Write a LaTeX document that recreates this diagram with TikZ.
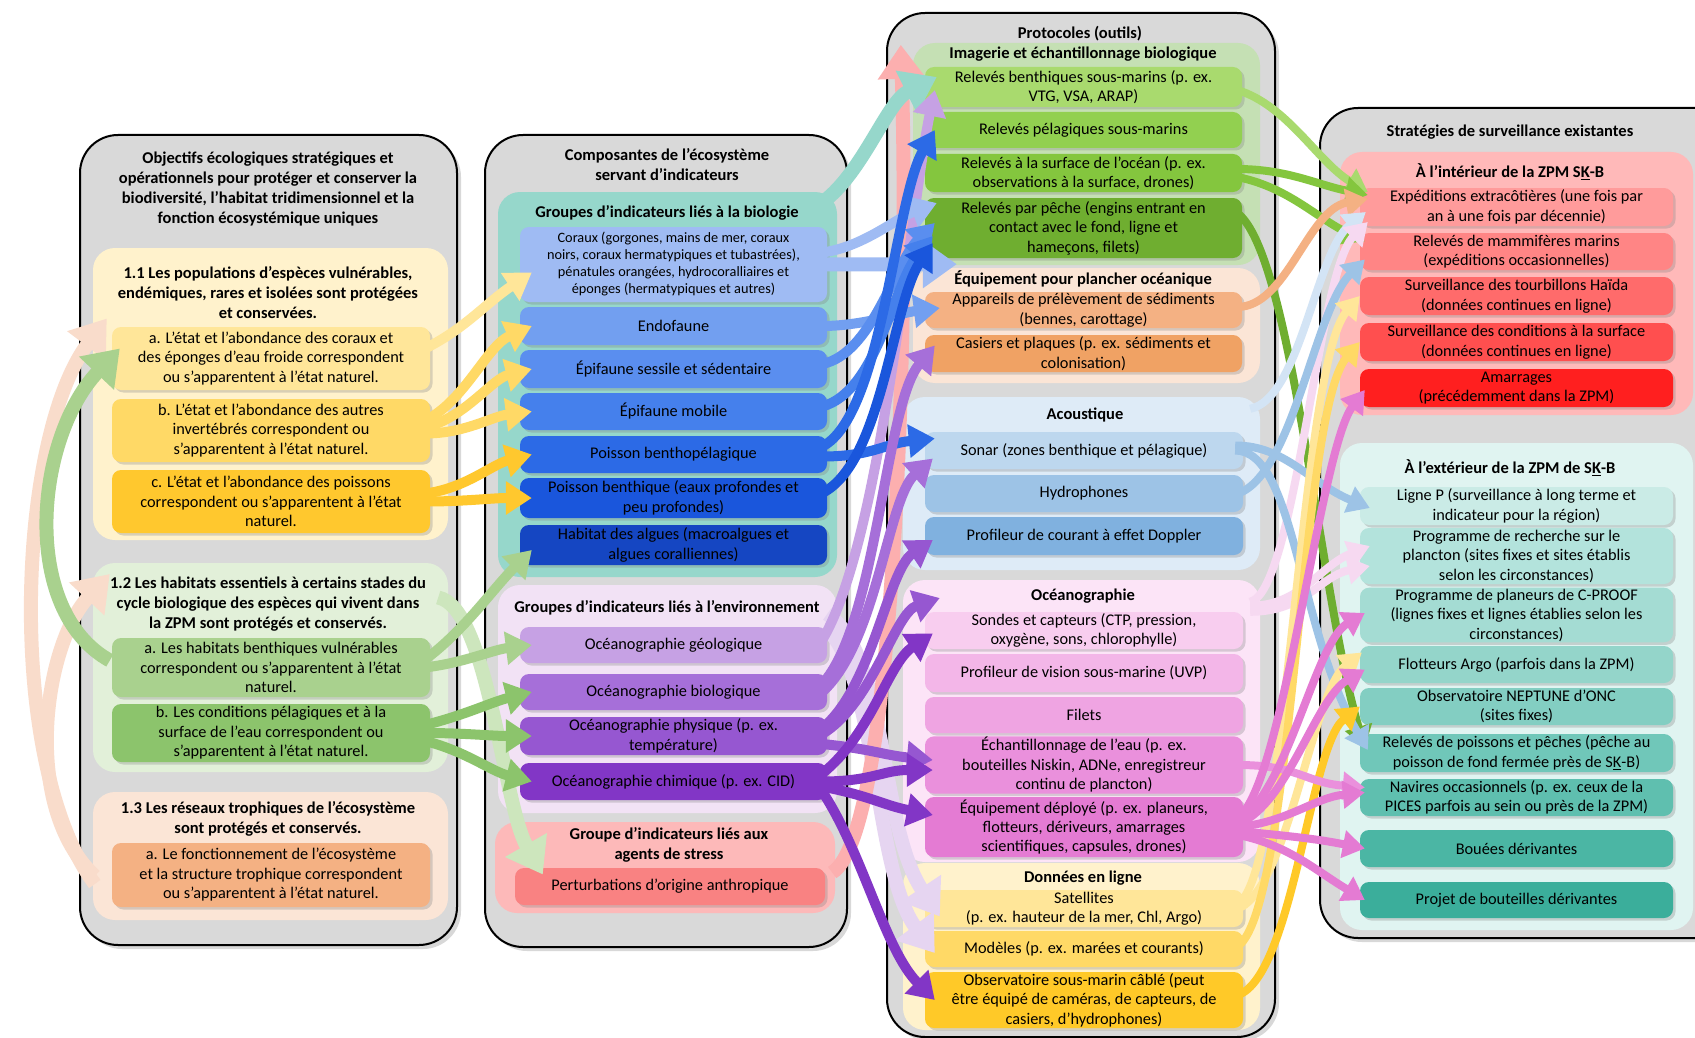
\documentclass[tikz,border=0pt]{standalone}
\usepackage{fontspec}
\setmainfont{Carlito}
\usetikzlibrary{arrows.meta,calc,shadows}
\newcommand\myb{\fontsize{16.5}{20}\selectfont\bfseries}
\newcommand\myn{\fontsize{16.3}{19.5}\selectfont}
\newcommand\mysm{\fontsize{14.3}{17}\selectfont}
\definecolor{cGray}{HTML}{D9D9D9}
% col1
\definecolor{cR11}{HTML}{FFF2CC}\definecolor{cYa}{HTML}{FFE699}\definecolor{cYb}{HTML}{FFD966}\definecolor{cYc}{HTML}{FFC82E}
\definecolor{cR12}{HTML}{E2F0D9}\definecolor{cGa}{HTML}{A9D18E}\definecolor{cGb}{HTML}{8CC46C}\definecolor{cGl}{HTML}{CDE6BD}
\definecolor{cR13}{HTML}{FBE5D6}\definecolor{cOa}{HTML}{F4B183}\definecolor{cPeach}{HTML}{F9DCCB}
% col2
\definecolor{cBio}{HTML}{96D7CB}\definecolor{cB1}{HTML}{9FBBF3}\definecolor{cB2}{HTML}{729FF0}\definecolor{cB3}{HTML}{5A8EEF}
\definecolor{cB4}{HTML}{4580EC}\definecolor{cB5}{HTML}{2C6AE6}\definecolor{cB6}{HTML}{1A56DC}\definecolor{cB7}{HTML}{1546C2}
\definecolor{cEnv}{HTML}{F2E2F5}\definecolor{cP1}{HTML}{C6A1E4}\definecolor{cP2}{HTML}{A66FD9}\definecolor{cP3}{HTML}{9657D1}\definecolor{cP4}{HTML}{8236C6}
\definecolor{cPl}{HTML}{E6D5F1}
\definecolor{cStr}{HTML}{FDB9B9}\definecolor{cPert}{HTML}{F98282}\definecolor{cStrA}{HTML}{FCAFAF}
% col3
\definecolor{cImg}{HTML}{C5E0B4}\definecolor{cV1}{HTML}{A9DA6E}\definecolor{cV2}{HTML}{92D050}\definecolor{cV3}{HTML}{84C63E}\definecolor{cV4}{HTML}{6FAE30}
\definecolor{cSea}{HTML}{FBE5D6}\definecolor{cO1}{HTML}{F4B183}\definecolor{cO2}{HTML}{F0A264}
\definecolor{cAco}{HTML}{DEEBF7}\definecolor{cA1}{HTML}{BDD7EE}\definecolor{cA2}{HTML}{9DC3E6}\definecolor{cA3}{HTML}{80B1DF}\definecolor{cAl}{HTML}{D3E4F5}
\definecolor{cOce}{HTML}{FCE4F7}\definecolor{cK1}{HTML}{F8CDEF}\definecolor{cK2}{HTML}{F3B6E8}\definecolor{cK3}{HTML}{EFA4E2}\definecolor{cK4}{HTML}{EA90DC}\definecolor{cK5}{HTML}{E47BD3}
\definecolor{cKl}{HTML}{F6D9F1}
\definecolor{cDon}{HTML}{FFF2CC}\definecolor{cD1}{HTML}{FFE699}\definecolor{cD2}{HTML}{FFD966}\definecolor{cD3}{HTML}{FFC928}
% col4
\definecolor{cIn}{HTML}{FFB9B9}\definecolor{cI1}{HTML}{FF9B9B}\definecolor{cI2}{HTML}{FF8585}\definecolor{cI3}{HTML}{FF6B6B}\definecolor{cI4}{HTML}{FF4F4F}\definecolor{cI5}{HTML}{FF1F1F}
\definecolor{cOut}{HTML}{E0F4F1}\definecolor{cT1}{HTML}{CAEBE6}\definecolor{cT2}{HTML}{B3E3DC}\definecolor{cT3}{HTML}{A4DCD3}\definecolor{cT4}{HTML}{94D5CA}
\definecolor{cT5}{HTML}{83CEC2}\definecolor{cT6}{HTML}{70C7B9}\definecolor{cT7}{HTML}{5FBFAF}\definecolor{cT8}{HTML}{4BB6A4}\definecolor{cT9}{HTML}{3BAE9B}
\begin{document}
\begin{tikzpicture}[x=1pt,y=-1pt,
 colbox/.style={draw=black, line width=2pt, fill=cGray, rounded corners=38pt, drop shadow={shadow xshift=4pt, shadow yshift=-4pt, opacity=0.3}},
 region/.style={rounded corners=22pt, inner sep=0pt},
 item/.style={rounded corners=9pt, inner sep=1pt, align=center, font=\myn, drop shadow={shadow xshift=2.5pt, shadow yshift=-2.5pt, opacity=0.3}},
 hdr/.style={align=center, font=\myb, inner sep=0pt},
 conn/.style={line width=10pt, -{Triangle[width=32pt,length=26pt]}},
 wide/.style={line width=14pt, -{Triangle[width=46pt,length=34pt]}},
 thin/.style={line width=8pt, -{Triangle[width=27pt,length=22pt]}}
]
\fill[white] (0,0) rectangle (1695,1038);
\useasboundingbox (0,0) rectangle (1695,1038);
\clip (0,0) rectangle (1695,1038);

% ---------------- column 1
\node[colbox, minimum width=377pt, minimum height=810pt] (c1) at (268.5,540) {};
\node[hdr] (t1) at (268,189) {Objectifs écologiques stratégiques et\\opérationnels pour protéger et conserver la\\biodiversité, l'habitat tridimensionnel et la\\fonction écosystémique uniques};
\node[region, fill=cR11, minimum width=355pt, minimum height=292pt] (r11) at (270.5,394) {};
\node[hdr] (h11) at (268,293) {1.1 Les populations d’espèces vulnérables,\\endémiques, rares et isolées sont protégées\\et conservées.};
\node[item, fill=cYa, minimum width=318pt, minimum height=63pt] (o11a) at (271,358.5) {a. L’état et l’abondance des coraux et\\des éponges d’eau froide correspondent\\ou s’apparentent à l’état naturel.};
\node[item, fill=cYb, minimum width=318pt, minimum height=63pt] (o11b) at (271,430.5) {b. L’état et l’abondance des autres\\invertébrés correspondent ou\\s’apparentent à l’état naturel.};
\node[item, fill=cYc, minimum width=318pt, minimum height=63pt] (o11c) at (271,501.5) {c. L’état et l’abondance des poissons\\correspondent ou s’apparentent à l’état\\naturel.};
\node[region, fill=cR12, minimum width=355pt, minimum height=209pt] (r12) at (270.5,667.5) {};
\node[hdr] (h12) at (268,604) {1.2 Les habitats essentiels à certains stades du\\cycle biologique des espèces qui vivent dans\\la ZPM sont protégés et conservés.};
\node[item, fill=cGa, minimum width=318pt, minimum height=59pt] (o12a) at (271,667.5) {a. Les habitats benthiques vulnérables\\correspondent ou s’apparentent à l’état\\naturel.};
\node[item, fill=cGb, minimum width=318pt, minimum height=58pt] (o12b) at (271,733) {b. Les conditions pélagiques et à la\\surface de l’eau correspondent ou\\s’apparentent à l’état naturel.};
\node[region, fill=cR13, minimum width=355pt, minimum height=128pt] (r13) at (270.5,856) {};
\node[hdr] (h13) at (268,819) {1.3 Les réseaux trophiques de l’écosystème\\sont protégés et conservés.};
\node[item, fill=cOa, minimum width=318pt, minimum height=64pt] (o13a) at (271,875) {a. Le fonctionnement de l’écosystème\\et la structure trophique correspondent\\ou s’apparentent à l’état naturel.};

% ---------------- column 2
\node[colbox, minimum width=362pt, minimum height=812pt] (c2) at (666,541) {};
\node[hdr] (t2) at (667,165) {Composantes de l’écosystème\\servant d’indicateurs};
\node[region, fill=cBio, minimum width=339pt, minimum height=385pt] (rbio) at (667.5,384.5) {};
\node[hdr] (hbio) at (667,213) {Groupes d’indicateurs liés à la biologie};
\node[item, fill=cB1, minimum width=307pt, minimum height=75pt, font=\mysm] (coraux) at (673.5,264.5) {Coraux (gorgones, mains de mer, coraux\\noirs, coraux hermatypiques et tubastrées),\\pénatules orangées, hydrocoralliaires et\\éponges (hermatypiques et autres)};
\node[item, fill=cB2, minimum width=307pt, minimum height=38pt] (endo) at (673.5,326) {Endofaune};
\node[item, fill=cB3, minimum width=307pt, minimum height=38pt] (episs) at (673.5,369) {Épifaune sessile et sédentaire};
\node[item, fill=cB4, minimum width=307pt, minimum height=37pt] (epimob) at (673.5,411.5) {Épifaune mobile};
\node[item, fill=cB5, minimum width=307pt, minimum height=37pt] (pbp) at (673.5,454.5) {Poisson benthopélagique};
\node[item, fill=cB6, minimum width=307pt, minimum height=40pt] (pb) at (673.5,498) {Poisson benthique (eaux profondes et\\peu profondes)};
\node[item, fill=cB7, minimum width=307pt, minimum height=40pt] (algues) at (673.5,545) {Habitat des algues (macroalgues et\\algues coralliennes)};
\node[region, fill=cEnv, minimum width=339pt, minimum height=228pt] (renv) at (667.5,699) {};
\node[hdr] (henv) at (667,608) {Groupes d’indicateurs liés à l’environnement};
\node[item, fill=cP1, minimum width=307pt, minimum height=36pt] (ogeo) at (673.5,645) {Océanographie géologique};
\node[item, fill=cP2, minimum width=307pt, minimum height=36pt] (obio) at (673.5,692) {Océanographie biologique};
\node[item, fill=cP3, minimum width=307pt, minimum height=38pt] (ophys) at (673.5,736) {Océanographie physique (p. ex.\\température)};
\node[item, fill=cP4, minimum width=307pt, minimum height=37pt] (ochim) at (673.5,781.5) {Océanographie chimique (p. ex. CID)};
\node[region, fill=cStr, minimum width=340pt, minimum height=91pt] (rstr) at (665,867.5) {};
\node[hdr] (hstr) at (669,845) {Groupe d’indicateurs liés aux\\agents de stress};
\node[item, fill=cPert, minimum width=310pt, minimum height=37pt] (pert) at (670,886.5) {Perturbations d’origine anthropique};

% ---------------- column 3
\node[colbox, minimum width=388pt, minimum height=1024pt] (c3) at (1081,525) {};
\node[hdr] (t3) at (1080,34) {Protocoles (outils)};
\node[region, fill=cImg, minimum width=347pt, minimum height=222pt] (rimg) at (1086.5,154) {};
\node[hdr] (himg) at (1083,54) {Imagerie et échantillonnage biologique};
\node[item, fill=cV1, minimum width=317pt, minimum height=40pt] (rbenth) at (1083.5,87) {Relevés benthiques sous-marins (p. ex.\\VTG, VSA, ARAP)};
\node[item, fill=cV2, minimum width=317pt, minimum height=36pt] (rpel) at (1083.5,130) {Relevés pélagiques sous-marins};
\node[item, fill=cV3, minimum width=317pt, minimum height=38pt] (rsurf) at (1083.5,173) {Relevés à la surface de l’océan (p. ex.\\observations à la surface, drones)};
\node[item, fill=cV4, minimum width=317pt, minimum height=60pt] (rpeche) at (1083.5,228) {Relevés par pêche (engins entrant en\\contact avec le fond, ligne et\\hameçons, filets)};
\node[region, fill=cSea, minimum width=347pt, minimum height=115pt] (rsea) at (1086.5,325.5) {};
\node[hdr] (hsea) at (1083,279) {Équipement pour plancher océanique};
\node[item, fill=cO1, minimum width=317pt, minimum height=36pt] (appar) at (1083.5,310) {Appareils de prélèvement de sédiments\\(bennes, carottage)};
\node[item, fill=cO2, minimum width=317pt, minimum height=37pt] (casiers) at (1083.5,353.5) {Casiers et plaques (p. ex. sédiments et\\colonisation)};
\node[region, fill=cAco, minimum width=357pt, minimum height=173pt] (racou) at (1081.5,483.5) {};
\node[hdr] (hacou) at (1085,415) {Acoustique};
\node[item, fill=cA1, minimum width=318pt, minimum height=37pt] (sonar) at (1084,450.5) {Sonar (zones benthique et pélagique)};
\node[item, fill=cA2, minimum width=318pt, minimum height=37pt] (hydro) at (1084,493.5) {Hydrophones};
\node[item, fill=cA3, minimum width=318pt, minimum height=38pt] (doppler) at (1084,536) {Profileur de courant à effet Doppler};
\node[region, fill=cOce, minimum width=357pt, minimum height=282pt] (rocean) at (1081.5,721) {};
\node[hdr] (hocean) at (1083,596) {Océanographie};
\node[item, fill=cK1, minimum width=318pt, minimum height=37pt] (sondes) at (1084,630.5) {Sondes et capteurs (CTP, pression,\\oxygène, sons, chlorophylle)};
\node[item, fill=cK2, minimum width=318pt, minimum height=38pt] (uvp) at (1084,673) {Profileur de vision sous-marine (UVP)};
\node[item, fill=cK3, minimum width=318pt, minimum height=36pt] (filets) at (1084,715) {Filets};
\node[item, fill=cK4, minimum width=318pt, minimum height=56pt] (echant) at (1084,765) {Échantillonnage de l’eau (p. ex.\\bouteilles Niskin, ADNe, enregistreur\\continu de plancton)};
\node[item, fill=cK5, minimum width=318pt, minimum height=60pt] (equip) at (1084,827) {Équipement déployé (p. ex. planeurs,\\flotteurs, dériveurs, amarrages\\scientifiques, capsules, drones)};
\node[region, fill=cDon, minimum width=357pt, minimum height=167pt] (rdonn) at (1081.5,946.5) {};
\node[hdr] (hdonn) at (1083,878) {Données en ligne};
\node[item, fill=cD1, minimum width=318pt, minimum height=37pt] (sat) at (1084,908.5) {Satellites\\(p. ex. hauteur de la mer, Chl, Argo)};
\node[item, fill=cD2, minimum width=318pt, minimum height=36pt] (modeles) at (1084,949) {Modèles (p. ex. marées et courants)};
\node[item, fill=cD3, minimum width=318pt, minimum height=56pt] (obs) at (1084,1000) {Observatoire sous-marin câblé (peut\\être équipé de caméras, de capteurs, de\\casiers, d’hydrophones)};

% ---------------- column 4
\node[colbox, minimum width=420pt, minimum height=830pt] (c4) at (1530,523) {};
\node[hdr] (t4) at (1510,132) {Stratégies de surveillance existantes};
\node[region, fill=cIn, minimum width=353pt, minimum height=263pt] (rin) at (1516.5,283.5) {};
\node[hdr] (hin) at (1510,172) {À l’intérieur de la ZPM S\underline{K}-B};
\node[item, fill=cI1, minimum width=313pt, minimum height=38pt] (exped) at (1516.5,207) {Expéditions extracôtières (une fois par\\an à une fois par décennie)};
\node[item, fill=cI2, minimum width=313pt, minimum height=37pt] (mamm) at (1516.5,251.5) {Relevés de mammifères marins\\(expéditions occasionnelles)};
\node[item, fill=cI3, minimum width=313pt, minimum height=38pt] (tourb) at (1516.5,296) {Surveillance des tourbillons Haïda\\(données continues en ligne)};
\node[item, fill=cI4, minimum width=313pt, minimum height=38pt] (condsurf) at (1516.5,342) {Surveillance des conditions à la surface\\(données continues en ligne)};
\node[item, fill=cI5, minimum width=313pt, minimum height=38pt] (amarr) at (1516.5,388) {Amarrages\\(précédemment dans la ZPM)};
\node[region, fill=cOut, minimum width=353pt, minimum height=487pt] (rout) at (1516.5,686.5) {};
\node[hdr] (hout) at (1510,468) {À l’extérieur de la ZPM de S\underline{K}-B};
\node[item, fill=cT1, minimum width=313pt, minimum height=38pt] (lignep) at (1516.5,506) {Ligne P (surveillance à long terme et\\indicateur pour la région)};
\node[item, fill=cT2, minimum width=313pt, minimum height=56pt] (planct) at (1516.5,556) {Programme de recherche sur le\\plancton (sites fixes et sites établis\\selon les circonstances)};
\node[item, fill=cT3, minimum width=313pt, minimum height=54pt] (cproof) at (1516.5,615) {Programme de planeurs de C-PROOF\\(lignes fixes et lignes établies selon les\\circonstances)};
\node[item, fill=cT4, minimum width=313pt, minimum height=37pt] (argo) at (1516.5,664.5) {Flotteurs Argo (parfois dans la ZPM)};
\node[item, fill=cT5, minimum width=313pt, minimum height=37pt] (neptune) at (1516.5,706.5) {Observatoire NEPTUNE d’ONC\\(sites fixes)};
\node[item, fill=cT6, minimum width=313pt, minimum height=38pt] (rpoiss) at (1516.5,753) {Relevés de poissons et pêches (pêche au\\poisson de fond fermée près de S\underline{K}-B)};
\node[item, fill=cT7, minimum width=313pt, minimum height=37pt] (navires) at (1516.5,797.5) {Navires occasionnels (p. ex. ceux de la\\PICES parfois au sein ou près de la ZPM)};
\node[item, fill=cT8, minimum width=313pt, minimum height=37pt] (bouees) at (1516.5,848.5) {Bouées dérivantes};
\node[item, fill=cT9, minimum width=313pt, minimum height=36pt] (bouteilles) at (1516.5,900) {Projet de bouteilles dérivantes};

% ================= connectors
% left loops in column 1
\draw[wide, draw=cPeach] ($(r13.west)+(2,28)$) .. controls +(-90,-120) and +(-90,120) .. ($(o11a.west)+(-5,-40)$);
\draw[wide, draw=cPeach] ($(r13.west)+(2,20)$) .. controls +(-75,-70) and +(-65,70) .. ($(r12.west)+(17,-93.5)$);
\draw[wide, draw=cGa] ($(o12a.west)+(-2,-7)$) .. controls +(-90,-50) and +(-85,90) .. ($(o11a.west)+(8,-10)$);

% column 1 -> column 2
\draw[conn, draw=cYa] ($(o11a.east)+(-5,-10)$) .. controls +(40,-20) and +(-45,30) .. ($(coraux.west)+(12,8)$);
\draw[conn, draw=cYb] ($(o11b.east)+(-5,-10)$) .. controls +(40,-20) and +(-45,20) .. ($(endo.west)+(12,0)$);
\draw[conn, draw=cYb] ($(o11b.east)+(-5,-3)$) .. controls +(40,-10) and +(-40,10) .. ($(episs.west)+(12,0)$);
\draw[conn, draw=cYb] ($(o11b.east)+(-5,3)$) .. controls +(40,0) and +(-40,5) .. ($(epimob.west)+(12,0)$);
\draw[conn, draw=cYc] ($(o11c.east)+(-5,-8)$) .. controls +(40,-5) and +(-40,10) .. ($(pbp.west)+(12,0)$);
\draw[conn, draw=cYc] ($(o11c.east)+(-5,0)$) .. controls +(40,0) and +(-40,0) .. ($(pb.west)+(12,0)$);
\draw[wide, draw=cGl] ($(r12.east)+(-10,-70)$) .. controls +(50,10) and +(-40,-70) .. ($(pert.west)+(28,-12)$);
\draw[conn, draw=cGa] ($(o12a.east)+(-5,-8)$) .. controls +(40,-30) and +(-40,40) .. ($(algues.west)+(12,5)$);
\draw[conn, draw=cGa] ($(o12a.east)+(-5,0)$) .. controls +(40,-5) and +(-40,5) .. ($(ogeo.west)+(12,0)$);
\draw[conn, draw=cGb] ($(o12b.east)+(-5,-8)$) .. controls +(40,-10) and +(-40,10) .. ($(obio.west)+(12,0)$);
\draw[conn, draw=cGb] ($(o12b.east)+(-5,0)$) .. controls +(40,0) and +(-40,0) .. ($(ophys.west)+(12,0)$);
\draw[conn, draw=cGb] ($(o12b.east)+(-5,8)$) .. controls +(40,10) and +(-40,-10) .. ($(ochim.west)+(12,0)$);

% column 2 -> column 3
\draw[wide, draw=cPl] ($(renv.east)+(-10,-85)$) .. controls +(60,40) and +(-60,-90) .. ($(sat.west)+(15,8)$);
\draw[wide, draw=cPl] ($(renv.east)+(-10,-70)$) .. controls +(50,50) and +(-60,-80) .. ($(modeles.west)+(10,4)$);
\draw[wide, draw=cStrA] ($(rstr.east)+(-3,5)$) .. controls +(65,-40) and +(8,250) .. ($(rimg.north west)+(-12,2)$);
\draw[wide, draw=cBio] ($(rbio.north east)+(-14,10)$) .. controls +(40,-30) and +(-50,25) .. ($(rbenth.west)+(12,-10)$);
\draw[conn, draw=cP1] ($(ogeo.east)+(-5,-5)$) .. controls +(60,-100) and +(-25,120) .. ($(rbenth.west)+(10,3)$);
\draw[conn, draw=cB1] ($(coraux.east)+(-5,-12)$) .. controls +(40,-5) and +(-40,15) .. ($(rpeche.west)+(12,-25)$);
\draw[wide, draw=cB1] ($(coraux.east)+(-5,0)$) .. controls +(40,0) and +(-40,0) .. ($(rpeche.south west)+(32,6)$);
\draw[conn, draw=cB2] ($(endo.east)+(-5,0)$) .. controls +(40,0) and +(-40,5) .. ($(appar.west)+(15,-2)$);
\draw[conn, draw=cB3] ($(episs.east)+(-5,-5)$) .. controls +(50,-10) and +(-40,40) .. ($(rpeche.west)+(10,-5)$);
\draw[conn, draw=cB4] ($(epimob.east)+(-5,-5)$) .. controls +(55,-15) and +(-40,50) .. ($(rpeche.west)+(8,8)$);
\draw[conn, draw=cB5] ($(pbp.east)+(-5,-8)$) .. controls +(60,-30) and +(-40,70) .. ($(rpel.west)+(10,0)$);
\draw[conn, draw=cB5] ($(pbp.east)+(-5,2)$) .. controls +(50,0) and +(-50,5) .. ($(sonar.west)+(10,-12)$);
\draw[conn, draw=cB6] ($(pb.east)+(-5,-5)$) .. controls +(60,-30) and +(-40,60) .. ($(rpeche.west)+(8,15)$);
\draw[conn, draw=cP2] ($(obio.east)+(-5,-8)$) .. controls +(55,-60) and +(-50,60) .. ($(casiers.west)+(10,-8)$);
\draw[conn, draw=cP2] ($(obio.east)+(-5,0)$) .. controls +(55,-50) and +(-45,40) .. ($(sonar.west)+(8,8)$);
\draw[conn, draw=cP3] ($(ophys.east)+(-5,-8)$) .. controls +(50,-40) and +(-45,30) .. ($(doppler.west)+(8,4)$);
\draw[conn, draw=cP3] ($(ophys.east)+(-5,-2)$) .. controls +(50,-30) and +(-45,15) .. ($(rocean.west)+(37,-123)$);
\draw[conn, draw=cP3] ($(ophys.east)+(-5,8)$) .. controls +(50,5) and +(-50,-5) .. ($(echant.west)+(8,-5)$);
\draw[conn, draw=cP4] ($(ochim.east)+(-5,-8)$) .. controls +(50,-40) and +(-45,30) .. ($(sondes.west)+(8,3)$);
\draw[conn, draw=cP4] ($(ochim.east)+(-5,0)$) .. controls +(50,0) and +(-50,0) .. ($(echant.west)+(8,5)$);
\draw[conn, draw=cP4] ($(ochim.east)+(-5,5)$) .. controls +(50,10) and +(-50,-10) .. ($(equip.west)+(8,-12)$);
\draw[conn, draw=cP4] ($(ochim.east)+(-5,10)$) .. controls +(40,60) and +(-50,-50) .. ($(obs.west)+(10,0)$);

% column 3 -> column 4
\draw[thin, draw=cV4] ($(rpeche.east)+(-5,-15)$) .. controls +(55,40) and +(-45,-150) .. ($(rpoiss.west)+(5,-5)$);
\draw[thin, draw=cV1] ($(rbenth.east)+(-5,3)$) .. controls +(50,15) and +(-50,-30) .. ($(exped.west)+(8,-15)$);
\draw[thin, draw=cV3] ($(rsurf.east)+(-5,-4)$) .. controls +(50,0) and +(-50,-10) .. ($(exped.west)+(8,-12)$);
\draw[thin, draw=cV3] ($(rsurf.east)+(-5,4)$) .. controls +(50,10) and +(-50,-25) .. ($(mamm.west)+(5,-10)$);
\draw[thin, draw=cO1] ($(appar.east)+(-5,-3)$) .. controls +(50,0) and +(-60,10) .. ($(exped.west)+(8,-8)$);
\draw[thin, draw=cAl] ($(racou.north east)+(-10,12)$) .. controls +(50,-10) and +(-50,40) .. ($(exped.west)+(6,5)$);
\draw[thin, draw=cKl] ($(rocean.north east)+(-10,22)$) .. controls +(45,-10) and +(-50,50) .. ($(exped.west)+(8,15)$);
\draw[thin, draw=cKl] ($(rocean.north east)+(-10,26)$) .. controls +(50,0) and +(-50,20) .. ($(planct.west)+(10,-10)$);
\draw[thin, draw=cKl] ($(rocean.north east)+(-10,32)$) .. controls +(55,0) and +(-50,10) .. ($(planct.west)+(10,10)$);
\draw[thin, draw=cA2] ($(hydro.east)+(-5,0)$) .. controls +(55,-20) and +(-50,50) .. ($(mamm.west)+(5,8)$);
\draw[thin, draw=cA2] ($(sonar.east)+(-8,-5)$) .. controls +(50,0) and +(-60,-25) .. ($(lignep.west)+(10,2)$);
\draw[thin, draw=cA2] ($(sonar.east)+(-8,0)$) .. controls +(60,0) and +(-70,-120) .. ($(rpoiss.west)+(8,-3)$);
\draw[thin, draw=cD1] ($(sat.east)+(-5,-5)$) .. controls +(50,-30) and +(-60,70) .. ($(tourb.west)+(0,0)$);
\draw[thin, draw=cD1] ($(sat.east)+(-5,0)$) .. controls +(50,-20) and +(-50,40) .. ($(argo.west)+(2,-12)$);
\draw[thin, draw=cD2] ($(modeles.east)+(-5,-3)$) .. controls +(55,-40) and +(-60,70) .. ($(condsurf.west)+(0,0)$);
\draw[thin, draw=cD3] ($(obs.east)+(-5,-5)$) .. controls +(55,-20) and +(-50,40) .. ($(neptune.west)+(0,0)$);
\draw[thin, draw=cK4] ($(echant.east)+(-5,0)$) .. controls +(60,0) and +(-60,-5) .. ($(navires.west)+(5,-10)$);
\draw[thin, draw=cK5] ($(equip.east)+(-5,-10)$) .. controls +(45,-30) and +(-45,60) .. ($(amarr.west)+(5,2)$);
\draw[thin, draw=cK5] ($(equip.east)+(-5,-6)$) .. controls +(50,-30) and +(-50,30) .. ($(cproof.west)+(5,-2)$);
\draw[thin, draw=cK5] ($(equip.east)+(-5,-3)$) .. controls +(50,-20) and +(-50,30) .. ($(argo.west)+(5,5)$);
\draw[thin, draw=cK5] ($(equip.east)+(-5,0)$) .. controls +(50,-5) and +(-50,5) .. ($(navires.west)+(5,-5)$);
\draw[thin, draw=cK5] ($(equip.east)+(-5,4)$) .. controls +(50,5) and +(-50,-10) .. ($(bouees.west)+(5,0)$);
\draw[thin, draw=cK5] ($(equip.east)+(-5,8)$) .. controls +(50,10) and +(-50,-30) .. ($(bouteilles.west)+(5,0)$);
\end{tikzpicture}
\end{document}
